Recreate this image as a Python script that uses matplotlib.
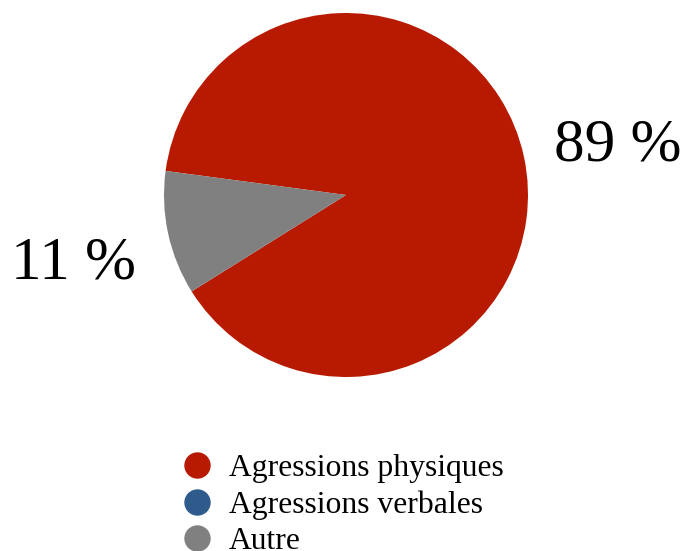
import matplotlib.pyplot as plt
from matplotlib.lines import Line2D

categories = ["Agressions physiques", "Agressions verbales", "Autre"]
values = [89, 0, 11]
labels = ["89 %", "", "11 %"]
colours = ["#B71A00", "#2E5A8C", "#808080"]

plt.rcParams['font.family'] = ['Liberation Serif', 'DejaVu Serif']

fig = plt.figure(figsize=(6.89, 5.51), dpi=100)
ax = fig.add_axes([164/689, (551-377)/551, 364/689, 364/551])

wedges, texts = ax.pie(values, labels=labels, colors=colours, startangle=212,
                       labeldistance=1.53, textprops={'fontsize': 44})
for t in texts:
    t.set_ha("center")
    t.set_va("center")
    x, y = t.get_position()
    t.set_position((x, y - 0.055))
ax.set_xlim(-1, 1)
ax.set_ylim(-1, 1)
ax.set_aspect("equal")

#legend with round markers
handles = [Line2D([], [], marker="o", linestyle="", markersize=18, color=c) for c in colours]
fig.legend(handles, categories, loc="upper left", bbox_to_anchor=(180/689, 1 - 454/551),
           frameon=False, fontsize=22.8, labelspacing=0.22, handletextpad=0.45,
           handlelength=1.1, borderpad=0, borderaxespad=0)

fig.savefig("out.png", dpi=100)
